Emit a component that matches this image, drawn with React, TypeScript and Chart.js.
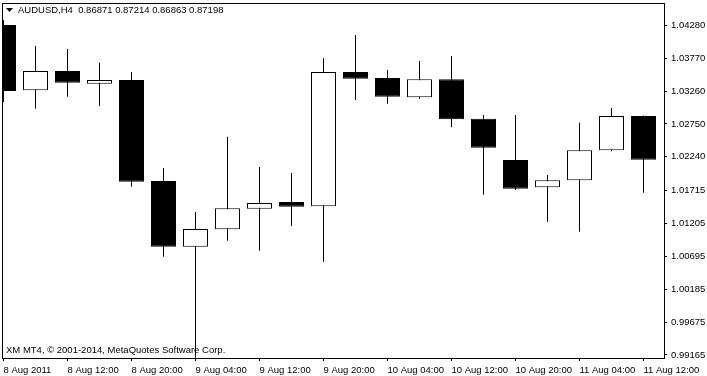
import React, { useEffect, useRef } from 'react';
import { Chart, registerables } from 'chart.js';

Chart.register(...registerables);

// H4 bars, 8 Aug 2011 04:00 .. 11 Aug 2011 12:00
const times = [
  '8 Aug 04:00', '8 Aug 08:00', '8 Aug 12:00', '8 Aug 16:00', '8 Aug 20:00',
  '9 Aug 00:00', '9 Aug 04:00', '9 Aug 08:00', '9 Aug 12:00', '9 Aug 16:00', '9 Aug 20:00',
  '10 Aug 00:00', '10 Aug 04:00', '10 Aug 08:00', '10 Aug 12:00', '10 Aug 16:00', '10 Aug 20:00',
  '11 Aug 00:00', '11 Aug 04:00', '11 Aug 08:00', '11 Aug 12:00',
];
const opens = [
  1.04285, 1.03272, 1.03571, 1.03374, 1.03431,
  1.01865, 1.00845, 1.01115, 1.01435, 1.01539, 1.01472,
  1.03556, 1.03462, 1.03163, 1.03442, 1.02831, 1.02190,
  1.01767, 1.01875, 1.02341, 1.02873,
];
const highs = [
  1.04362, 1.03959, 1.03912, 1.03700, 1.03556,
  1.02066, 1.01384, 1.02552, 1.02082, 1.01989, 1.03768,
  1.04130, 1.03587, 1.03726, 1.03804, 1.02888, 1.02888,
  1.01958, 1.02769, 1.02997, 1.02880,
];
const lows = [
  1.03090, 1.02986, 1.03172, 1.03028, 1.01776,
  1.00690, 0.99120, 1.00938, 1.00783, 1.01166, 1.00613,
  1.03121, 1.03064, 1.03141, 1.02698, 1.01652, 1.01725,
  1.01233, 1.01078, 1.02325, 1.01683,
];
const closes = [
  1.03261, 1.03571, 1.03390, 1.03431, 1.01854,
  1.00845, 1.01120, 1.01441, 1.01523, 1.01466, 1.03556,
  1.03452, 1.03172, 1.03442, 1.02822, 1.02381, 1.01745,
  1.01875, 1.02341, 1.02873, 1.02195,
];

const yTickValues = [
  1.0428, 1.0377, 1.0326, 1.0275, 1.0224, 1.01715, 1.01205, 1.00695, 1.00185, 0.99675, 0.99165,
];
const xTickIndices = [0, 2, 4, 6, 8, 10, 12, 14, 16, 18, 20];
const xTickLabels = [
  '8 Aug 2011', '8 Aug 12:00', '8 Aug 20:00', '9 Aug 04:00', '9 Aug 12:00', '9 Aug 20:00',
  '10 Aug 04:00', '10 Aug 12:00', '10 Aug 20:00', '11 Aug 04:00', '11 Aug 12:00',
];
const headerText = 'AUDUSD,H4  0.86871 0.87214 0.86863 0.87198';
const footerText = 'XM MT4, \u00A9 2001-2014, MetaQuotes Software Corp.';

const FONT_FAMILY = "'Liberation Sans', Arial, sans-serif";
const FONT_SIZE = 9.5;

const frameAndTextPlugin = {
  id: 'mtFrame',
  afterDraw(chart: any) {
    const { ctx, chartArea } = chart;
    const { left, top, right, bottom } = chartArea;
    ctx.save();
    ctx.strokeStyle = '#000';
    ctx.lineWidth = 1;
    ctx.strokeRect(left + 0.5, top + 0.5, right - left, bottom - top);
    // header triangle
    ctx.fillStyle = '#000';
    ctx.beginPath();
    ctx.moveTo(left + 4, top + 5);
    ctx.lineTo(left + 11, top + 5);
    ctx.lineTo(left + 7.5, top + 9);
    ctx.closePath();
    ctx.fill();
    ctx.font = `${FONT_SIZE}px ${FONT_FAMILY}`;
    ctx.textBaseline = 'middle';
    ctx.textAlign = 'left';
    ctx.fillText(headerText, left + 16, top + 7.5);
    ctx.fillText(footerText, left + 4, bottom - 8);
    ctx.restore();
  },
};

export default function App() {
  const canvasRef = useRef<HTMLCanvasElement | null>(null);

  useEffect(() => {
    document.body.style.margin = '0';
    const canvas = canvasRef.current;
    if (!canvas) return;

    const bodyData = times.map((_, i) => ({
      x: i,
      y: [Math.min(opens[i], closes[i]), Math.max(opens[i], closes[i])],
    }));
    const bodyColors = times.map((_, i) => (closes[i] >= opens[i] ? '#ffffff' : '#000000'));
    const wickData = times.map((_, i) => ({ x: i, y: [lows[i], highs[i]] }));

    const font = { family: FONT_FAMILY, size: FONT_SIZE };

    const chart = new Chart(canvas, {
      type: 'bar',
      data: {
        datasets: [
          {
            label: 'body',
            data: bodyData as any,
            backgroundColor: bodyColors,
            borderColor: '#000',
            borderWidth: 1,
            borderSkipped: false,
            grouped: false,
            inflateAmount: 0,
            categoryPercentage: 1,
            barPercentage: 1,
            maxBarThickness: 25,
            order: 0,
          } as any,
          {
            label: 'wick',
            data: wickData as any,
            backgroundColor: '#000',
            borderWidth: 0,
            grouped: false,
            inflateAmount: 0,
            categoryPercentage: 1,
            barPercentage: 1,
            maxBarThickness: 1,
            order: 1,
          } as any,
        ],
      },
      options: {
        animation: false,
        responsive: false,
        maintainAspectRatio: false,
        layout: { padding: { left: 2, top: 3, right: 0, bottom: 0 } },
        plugins: {
          legend: { display: false },
          tooltip: { enabled: false },
          title: { display: false },
        },
        scales: {
          x: {
            type: 'linear',
            min: -0.046875,
            max: 20.640625,
            bounds: 'data',
            offset: false,
            position: 'bottom',
            grid: {
              display: true,
              offset: false,
              drawOnChartArea: false,
              drawTicks: true,
              tickLength: 3,
              color: '#000',
              lineWidth: 1,
            },
            border: { display: false },
            ticks: {
              autoSkip: false,
              maxRotation: 0,
              minRotation: 0,
              align: 'start',
              padding: 4,
              color: '#000',
              font,
              callback: (_v: any, idx: number) => xTickLabels[idx],
            },
            afterBuildTicks: (s: any) => {
              s.ticks = xTickIndices.map((v) => ({ value: v }));
            },
            afterFit: (s: any) => {
              s.height = 18;
              s.paddingLeft = 0;
              s.paddingRight = 0;
            },
          } as any,
          y: {
            type: 'linear',
            min: 0.99118,
            max: 1.04626,
            bounds: 'data',
            position: 'right',
            grid: {
              display: true,
              drawOnChartArea: false,
              drawTicks: true,
              tickLength: 3,
              color: '#000',
              lineWidth: 1,
            },
            border: { display: false },
            ticks: {
              autoSkip: false,
              padding: 4,
              color: '#000',
              font,
              callback: (v: any) => Number(v).toFixed(5),
            },
            afterBuildTicks: (s: any) => {
              s.ticks = yTickValues.map((v) => ({ value: v }));
            },
            afterFit: (s: any) => {
              s.width = 43;
              s.paddingTop = 0;
              s.paddingBottom = 0;
            },
          } as any,
        },
      },
      plugins: [frameAndTextPlugin],
    });

    return () => {
      chart.destroy();
    };
  }, []);

  return (
    <div style={{ position: 'absolute', left: 0, top: 0, width: 707, height: 376, background: '#fff' }}>
      <canvas ref={canvasRef} width={707} height={376} style={{ display: 'block' }} />
    </div>
  );
}
